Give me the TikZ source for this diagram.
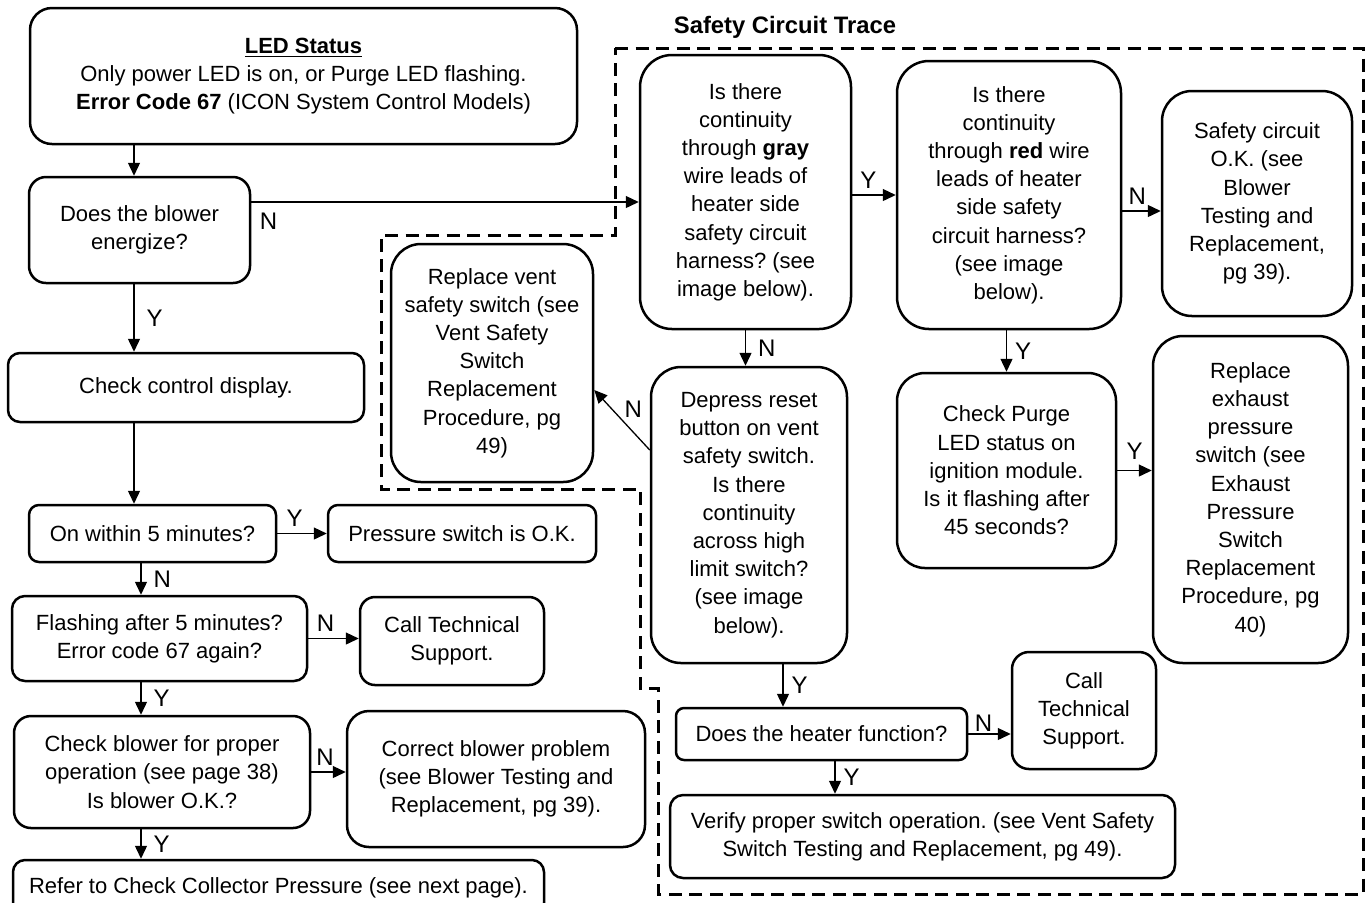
\documentclass[tikz,border=0pt]{standalone}
\usepackage{fontspec}
\setmainfont{Liberation Sans}
\usepackage{tikz}
\usetikzlibrary{arrows.meta,positioning,calc}
\frenchspacing

\begin{document}
\begin{tikzpicture}[x=0.5pt,y=-0.5pt,>={Triangle[length=6.5pt,width=6pt]},
  box/.style={draw,line width=1.25pt,rounded corners=#1,align=center,inner sep=0pt,
    font=\fontsize{11}{14.1}\selectfont},
  box/.default=6pt,
  sz/.style 2 args={minimum width=#1*0.5pt,minimum height=#2*0.5pt},
  yn/.style={font=\fontsize{12}{12}\selectfont,inner sep=1pt},
  conn/.style={->,line width=0.65pt}]
  \useasboundingbox (0,0) rectangle (1370,902);

  % Safety circuit trace frame
  \draw[line width=1.5pt,dash pattern=on 6.5pt off 3.75pt]
    (615,48) -- (1363,48) -- (1363,894) -- (658,894) -- (658,688) -- (640,688)
    -- (640,489) -- (381,489) -- (381,235) -- (615,235) -- cycle;
  \node[font=\bfseries\fontsize{11.9}{12}\selectfont] (title) at (785,27) {Safety Circuit Trace};

  % Left column
  \node[box=11pt,sz={547}{136}] (led) at (303.5,76)
    {\underline{\textbf{LED Status}}\\Only power LED is on, or Purge LED flashing.\\\textbf{Error Code 67} (ICON System Control Models)};
  \node[box=8.5pt,sz={221}{106}] (blower) at (139.5,230) {Does the blower\\energize?};
  \node[box,sz={356}{69}] (chkdisp) at (186,387.5) {Check control display.};
  \node[box=5pt,sz={247}{57}] (onwithin) at (152.5,533.5) {On within 5 minutes?};
  \node[box=5pt,sz={268}{57}] (pressok) at (462,533.5) {Pressure switch is O.K.};
  \node[box=6.5pt,sz={295}{85}] (flashing) at (159.5,638.5) {Flashing after 5 minutes?\\Error code 67 again?};
  \node[box=7.5pt,sz={184}{88}] (calltech1) at (452,641) {Call Technical\\Support.};
  \node[box=8.5pt,sz={296}{112}] (chkblower) at (162,772) {Check blower for proper\\operation (see page 38)\\Is blower O.K.?};
  \node[box=11pt,sz={298}{136}] (correct) at (496,779) {Correct blower problem\\(see Blower Testing and\\Replacement, pg 39).};
  \node[box,sz={531}{55}] (refer) at (278.5,887.5) {Refer to Check Collector Pressure (see next page).};

  % Safety circuit side
  \node[box=16pt,sz={211}{274}] (gray) at (745.5,192)
    {Is there\\continuity\\through \textbf{gray}\\wire leads of\\heater side\\safety circuit\\harness? (see\\image below).};
  \node[box=16pt,sz={224}{268}] (red) at (1009,195)
    {Is there\\continuity\\through \textbf{red} wire\\leads of heater\\side safety\\circuit harness?\\(see image\\below).};
  \node[box=15pt,sz={190}{225}] (safeok) at (1257,203.5)
    {Safety circuit\\O.K. (see\\Blower\\Testing and\\Replacement,\\pg 39).};
  \node[box=15pt,sz={202}{238}] (ventsw) at (492,363)
    {Replace vent\\safety switch (see\\Vent Safety\\Switch\\Replacement\\Procedure, pg\\49)};
  \node[box=15pt,sz={196}{296}] (depress) at (749,515)
    {Depress reset\\button on vent\\safety switch.\\Is there\\continuity\\across high\\limit switch?\\(see image\\below).};
  \node[box=14pt,sz={219}{195}] (purge) at (1006.5,470.5)
    {Check Purge\\LED status on\\ignition module.\\Is it flashing after\\45 seconds?};
  \node[box=15pt,sz={195}{327}] (exhaust) at (1250.5,499.5)
    {Replace\\exhaust\\pressure\\switch (see\\Exhaust\\Pressure\\Switch\\Replacement\\Procedure, pg\\40)};
  \node[box=4pt,sz={291}{52}] (heater) at (821.5,734) {Does the heater function?};
  \node[box=8.5pt,sz={144}{117}] (calltech2) at (1084,710.5) {Call\\Technical\\Support.};
  \node[box=6.5pt,sz={505}{83}] (verify) at (922.5,836.5)
    {Verify proper switch operation. (see Vent Safety\\Switch Testing and Replacement, pg 49).};

  % Columns for the straight down arrows
  \coordinate (colA) at (134,0);
  \coordinate (colB) at (141,0);
  \coordinate (colC) at (783,0);
  \coordinate (colD) at (835,0);
  \coordinate (nb) at ([yshift=14pt]blower.east);
  \coordinate (rs) at ([yshift=-8pt]red.east);

  % Connectors, left column
  \draw[conn] (led.south -| colA) -- (blower.north -| colA);
  \draw[conn] (nb) -- (nb -| gray.west)
    node[yn,pos=0,anchor=north west,xshift=3pt,yshift=-4pt] (lb1) {N};
  \draw[conn] (blower.south -| colA) -- (chkdisp.north -| colA) node[yn,midway,right=5pt] (lb2) {Y};
  \draw[conn] (chkdisp.south -| colA) -- (onwithin.north -| colA);
  \draw[conn] (onwithin.east) -- (pressok.west) node[yn,pos=0.35,above=2pt] (lb3) {Y};
  \draw[conn] (onwithin.south -| colB) -- (flashing.north -| colB) node[yn,midway,right=5pt] (lb4) {N};
  \draw[conn] (flashing.east) -- (flashing.east -| calltech1.west) node[yn,pos=0.34,above=2pt] (lb5) {N};
  \draw[conn] (flashing.south -| colB) -- (chkblower.north -| colB) node[yn,midway,right=5pt] (lb6) {Y};
  \draw[conn] (chkblower.east) -- (chkblower.east -| correct.west) node[yn,pos=0.4,above=2pt] (lb7) {N};
  \draw[conn] (chkblower.south -| colB) -- (refer.north -| colB) node[yn,midway,right=5pt] (lb8) {Y};

  % Connectors, safety circuit
  \draw[conn] (red.west -| gray.east) -- (red.west) node[yn,pos=0.37,above=2pt] (lb9) {Y};
  \draw[conn] (rs) -- (rs -| safeok.west) node[yn,pos=0.39,above=2pt] (lb10) {N};
  \draw[conn] (gray.south) -- (gray.south |- depress.north) node[yn,midway,right=5pt] (lb11) {N};
  \draw[conn] ([yshift=32.5pt]depress.west) -- ([yshift=-13.5pt]ventsw.east)
    node[yn,midway,above right=0pt] (lb12) {N};
  \draw[conn] (purge.north |- red.south) -- (purge.north) node[yn,midway,right=3pt] (lb13) {Y};
  \draw[conn] (purge.east) -- (purge.east -| exhaust.west) node[yn,pos=0.5,above=4pt] (lb14) {Y};
  \draw[conn] (depress.south -| colC) -- (heater.north -| colC) node[yn,midway,right=3pt] (lb15) {Y};
  \draw[conn] (heater.east) -- (heater.east -| calltech2.west) node[yn,pos=0.36,above=0pt] (lb16) {N};
  \draw[conn] (heater.south -| colD) -- (verify.north -| colD) node[yn,midway,right=3pt] (lb17) {Y};
\end{tikzpicture}
\end{document}
